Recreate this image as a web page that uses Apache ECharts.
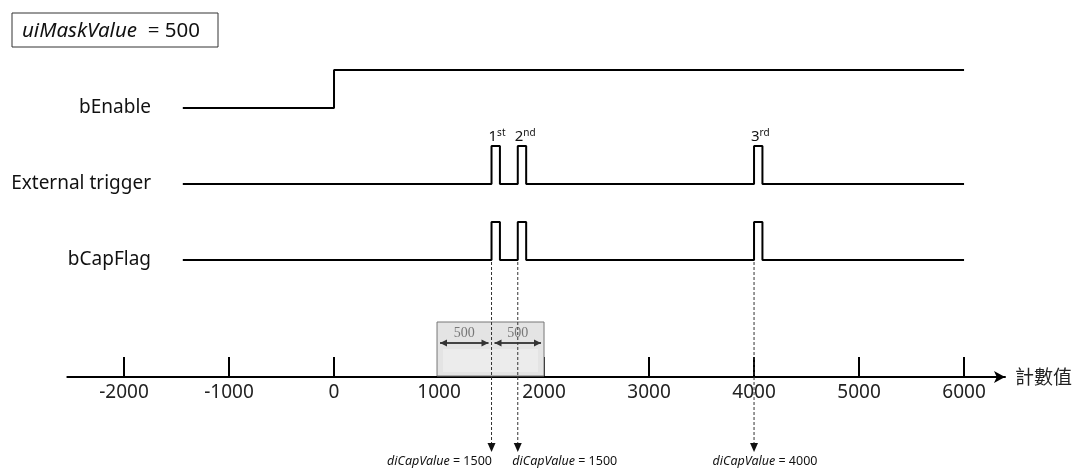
<!DOCTYPE html>
<html><head><meta charset="utf-8">
<script src="https://cdn.jsdelivr.net/npm/echarts@6/dist/echarts.min.js"></script>
<style>html,body{margin:0;padding:0;background:#fff}#c{width:1080px;height:469px}</style>
</head><body><div id="c"></div>
<script>
// ---- data ----
const xTickValues = [-2000, -1000, 0, 1000, 2000, 3000, 4000, 5000, 6000];
const axisName = '計數值';
const signalNames = ['bEnable', 'External trigger', 'bCapFlag'];
const bEnableEdges = [[-1440, 0], [0, 1], [6000, 1]];
const triggerEdges = [[-1440, 0], [1500, 1], [1580, 0], [1750, 1], [1830, 0], [4000, 1], [4080, 0], [6000, 0]];
const capFlagEdges = [[-1440, 0], [1500, 1], [1580, 0], [1750, 1], [1830, 0], [4000, 1], [4080, 0], [6000, 0]];
const captureTimes = [1500, 1750, 4000];
const captureOrdinals = [['1', 'st'], ['2', 'nd'], ['3', 'rd']];
const capturedValues = [1500, 1500, 4000];
const maskValue = 500;
const maskCenter = 1500;

// ---- layout (rows on the hidden y axis, pixel-like units) ----
const laneBase = [108, 184, 260];
const pulseHigh = 38;
const capLabelDx = [-52, 47, 11];
const FONT = 'Noto Sans, Open Sans, sans-serif';

const chart = echarts.init(document.getElementById('c'), null, { renderer: 'canvas' });

const signalEdges = [bEnableEdges, triggerEdges, capFlagEdges];
const signalSeries = signalEdges.map((edges, i) => ({
  type: 'line',
  name: signalNames[i],
  step: 'end',
  symbol: 'none',
  silent: true,
  z: 5,
  lineStyle: { color: '#000', width: 2 },
  data: edges.map(([x, l]) => [x, laneBase[i] - l * pulseHigh])
}));

const maskSeries = {
  type: 'custom',
  silent: true,
  z: 3,
  data: [[maskCenter - maskValue, maskCenter, maskCenter + maskValue]],
  renderItem: function (params, api) {
    const x0 = api.value(0), xc = api.value(1), x1 = api.value(2);
    const p0 = api.coord([x0, 322]);
    const p1 = api.coord([x1, 376]);
    const pc = api.coord([xc, 343]);
    const ay = pc[1];
    const left = p0[0] - 2, right = p1[0];
    const mid = pc[0];
    const head = (x, dir) => ({
      type: 'polygon',
      shape: { points: [[x, ay], [x - dir * 7, ay - 3.5], [x - dir * 7, ay + 3.5]] },
      style: { fill: '#333' }
    });
    return {
      type: 'group',
      children: [
        { type: 'rect', shape: { x: left, y: p0[1], width: right - left, height: p1[1] - p0[1] },
          style: { fill: '#e4e4e4', stroke: '#777', lineWidth: 1 } },
        { type: 'rect', shape: { x: left + 6, y: ay + 6, width: right - left - 12, height: p1[1] - ay - 10 },
          style: { fill: '#ececec' } },
        { type: 'line', shape: { x1: left + 3, y1: ay, x2: mid - 3, y2: ay }, style: { stroke: '#444', lineWidth: 2 } },
        { type: 'line', shape: { x1: mid + 3, y1: ay, x2: right - 3, y2: ay }, style: { stroke: '#444', lineWidth: 2 } },
        head(left + 3, -1), head(mid - 3, 1), head(mid + 3, -1), head(right - 3, 1),
        { type: 'text', x: (left + mid) / 2, y: ay - 10,
          style: { text: String(maskValue), fill: '#777', font: '14px "Liberation Serif", serif', align: 'center', verticalAlign: 'middle' } },
        { type: 'text', x: (mid + right) / 2, y: ay - 10,
          style: { text: String(maskValue), fill: '#777', font: '14px "Liberation Serif", serif', align: 'center', verticalAlign: 'middle' } }
      ]
    };
  }
};

const captureSeries = {
  type: 'custom',
  silent: true,
  z: 6,
  data: captureTimes.map((t, i) => [t, capturedValues[i], i]),
  renderItem: function (params, api) {
    const t = api.value(0), v = api.value(1), i = api.value(2);
    const top = api.coord([t, laneBase[2] + 2]);
    const bot = api.coord([t, 444]);
    const tip = api.coord([t, 452]);
    const ord = api.coord([t, laneBase[1] - pulseHigh - 9]);
    const lab = api.coord([t, 461]);
    const o = captureOrdinals[i];
    return {
      type: 'group',
      children: [
        { type: 'line', shape: { x1: top[0], y1: top[1], x2: bot[0], y2: bot[1] },
          style: { stroke: '#333', lineWidth: 1, lineDash: [3, 2] } },
        { type: 'polygon', shape: { points: [[tip[0], tip[1]], [tip[0] - 4, bot[1] - 1], [tip[0] + 4, bot[1] - 1]] },
          style: { fill: '#111' } },
        { type: 'text', x: ord[0] - 3, y: ord[1],
          style: { text: '{n|' + o[0] + '}{s|' + o[1] + '}', align: 'left', verticalAlign: 'middle',
            rich: { n: { fontSize: 15, fontFamily: FONT, fill: '#111', lineHeight: 16 },
                    s: { fontSize: 10, fontFamily: FONT, fill: '#111', lineHeight: 16, padding: [0, 0, 7, 0] } } } },
        { type: 'text', x: lab[0] + capLabelDx[i], y: lab[1],
          style: { text: '{i|diCapValue}{r| = ' + v + '}', align: 'center', verticalAlign: 'middle',
            rich: { i: { fontSize: 12.5, fontStyle: 'italic', fontFamily: FONT, fill: '#111' },
                    r: { fontSize: 12.5, fontFamily: FONT, fill: '#111' } } } }
      ]
    };
  }
};

chart.setOption({
  animation: false,
  backgroundColor: '#fff',
  grid: { left: 67.3, right: 75, top: 0, bottom: 92 },
  xAxis: {
    type: 'value',
    min: -2540,
    max: 6390,
    name: axisName,
    nameLocation: 'end',
    nameGap: 10,
    nameTextStyle: { fontSize: 19, color: '#222', fontFamily: '"Noto Sans CJK TC", sans-serif' },
    axisLine: { show: true, onZero: false, symbol: ['none', 'arrow'], symbolSize: [9, 11],
      lineStyle: { color: '#000', width: 2 } },
    axisTick: { show: true, inside: true, length: 20, customValues: xTickValues,
      lineStyle: { color: '#000', width: 2 } },
    axisLabel: { customValues: xTickValues, fontSize: 19, color: '#222', fontFamily: FONT, margin: 6,
      formatter: function (v) { return String(v); } },
    splitLine: { show: false }
  },
  yAxis: { type: 'value', inverse: true, min: 0, max: 377, show: false },
  graphic: [
    { type: 'rect', shape: { x: 12, y: 13, width: 206, height: 34 },
      style: { fill: '#fff', stroke: '#333', lineWidth: 1 } },
    { type: 'text', x: 22, y: 31,
      style: { text: '{i|uiMaskValue}{r|  = ' + maskValue + '}', verticalAlign: 'middle',
        rich: { i: { fontSize: 20.5, fontStyle: 'italic', fontFamily: FONT, fill: '#111' },
                r: { fontSize: 20.5, fontFamily: FONT, fill: '#111' } } } }
  ].concat(signalNames.map((n, i) => ({
    type: 'text', x: 151, y: laneBase[i],
    style: { text: n, fill: '#111', font: '19px ' + FONT, align: 'right', verticalAlign: 'middle' }
  }))),
  series: signalSeries.concat([maskSeries, captureSeries])
});
</script>
</body></html>
